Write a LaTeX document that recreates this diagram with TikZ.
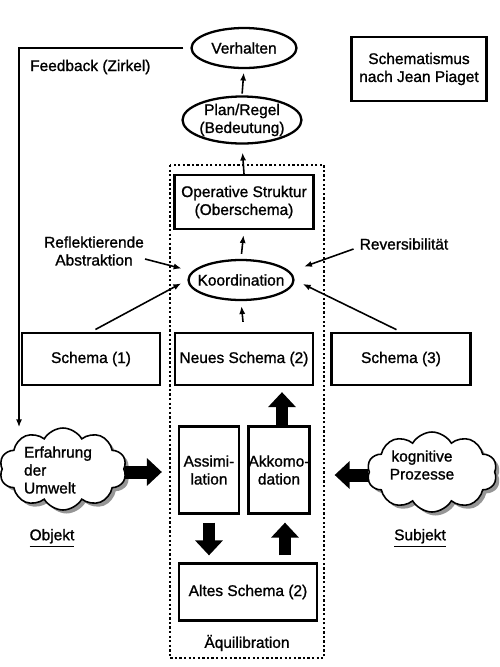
\documentclass[tikz,border=0pt]{standalone}
\usepackage{fontspec}
\setmainfont[FakeBold=1.2]{Liberation Sans}
\usepackage{tikz}
\usepackage{xcolor}
\usetikzlibrary{shapes.geometric, shapes.symbols, arrows.meta, shadows, calc}
\definecolor{schattengrau}{RGB}{150, 150, 150}
\tikzstyle{kasten} = [draw, line width=1.3pt, inner sep=2pt, align=center]
\tikzstyle{oval} = [draw, ellipse, line width=1.3pt, inner xsep=-4pt, inner ysep=-3pt, align=center]
\tikzstyle{wolke} = [draw, cloud, cloud puffs=10, cloud puff arc=120, cloud ignores aspect, line width=0.9pt, fill=white,
                     drop shadow={fill=schattengrau, opacity=1, shadow xshift=2pt, shadow yshift=-2pt}]
\tikzstyle{pfeil} = [line width=0.9pt, -{Latex[length=4.5pt, width=3.5pt]}]
\tikzstyle{blockpfeil} = [line width=0.26cm, -{Triangle[length=0.3cm, width=0.54cm]}]

\begin{document}
\begin{tikzpicture}[x=0.02cm, y=-0.02cm, font=\fontsize{8.8}{10.2}\selectfont]
            \useasboundingbox (0, 0) rectangle (500, 667);

            % Titel
            \node[kasten, minimum width=2.7cm, minimum height=1.28cm] (titel) at (419, 69) {Schematismus\\nach Jean Piaget};

            % Verhalten und Plan
            \node[oval, minimum width=2.1cm, minimum height=0.8cm] (verhalten) at (244, 48) {Verhalten};
            \node[oval, minimum width=2.38cm, minimum height=0.94cm] (plan) at (242, 120) {Plan/Regel\\(Bedeutung)};
            \node[anchor=west] (feedback) at (24, 67) {Feedback (Zirkel)};

            % Aequilibration
            \draw[line width=1.4pt, dash pattern=on 1.3pt off 1.3pt] (170, 165) rectangle (324, 658);
            \node (aequi) at (247, 643) {Äquilibration};

            \node[kasten, minimum width=2.78cm, minimum height=1.08cm] (oper) at (244, 202) {Operative Struktur\\(Oberschema)};
            \node[oval, minimum width=2.1cm, minimum height=0.8cm] (koord) at (241, 280) {Koordination};
            \node[align=center] (reflex) at (94, 251) {Reflektierende\\Abstraktion};
            \node (rev) at (404, 244) {Reversibilität};

            % Schemata
            \node[kasten, minimum width=2.76cm, minimum height=1.04cm] (schema1) at (91, 359) {Schema (1)};
            \node[kasten, minimum width=2.76cm, minimum height=1.04cm] (neu) at (244, 359) {Neues Schema (2)};
            \node[kasten, minimum width=2.78cm, minimum height=1.04cm] (schema3) at (401, 359) {Schema (3)};
            \node[kasten, minimum width=1.2cm, minimum height=1.74cm, inner xsep=0pt] (assim) at (209, 470) {Assimi-\\lation};
            \node[kasten, minimum width=1.2cm, minimum height=1.74cm, inner xsep=0pt] (akko) at (279, 470) {Akkomo-\\dation};
            \node[kasten, minimum width=2.76cm, minimum height=1.14cm] (altes) at (248, 592) {Altes Schema (2)};

            % Wolken
            \node[wolke, minimum width=2.54cm, minimum height=1.64cm] (erfahrung) at (63, 469) {};
            \node[align=left] (erfahrungtext) at (58, 470) {Erfahrung\\der\\Umwelt};
            \node[wolke, minimum width=2.6cm, minimum height=1.6cm] (kognitiv) at (432, 472) {};
            \node[align=center] (kognitivtext) at (422, 465) {kognitive\\Prozesse};
            \node (objekt) at (52, 538) {\underline{Objekt}};
            \node (subjekt) at (420, 538) {\underline{Subjekt}};

            % Pfeile
            \draw[pfeil, shorten <=1pt, shorten >=2pt] (plan.north) -- (verhalten.south);
            \draw[pfeil, shorten >=1.6mm] (oper.north) -- (plan.south);
            \draw[pfeil, shorten <=1mm, shorten >=1mm] (koord.north) -- (oper.south);
            \draw[pfeil, shorten <=2mm, shorten >=1mm] (neu.north) -- (koord.south);
            \draw[pfeil, shorten <=1mm, shorten >=1.4mm] (schema1.north) -- (koord.west);
            \draw[pfeil, shorten <=1mm, shorten >=1.8mm] (schema3.north) -- (koord.east);
            \draw[pfeil, shorten >=1.2mm] ([xshift=-1mm, yshift=-1.6mm]reflex.east) -- ([yshift=2mm]koord.west);
            \draw[pfeil, shorten >=2mm] ([yshift=-1mm]rev.west) -- ([yshift=2mm]koord.east);
            \draw[pfeil, shorten <=1.4mm] (verhalten.west) -| ([xshift=-0.88cm]erfahrung.north);

            % Blockpfeile
            \draw[blockpfeil, shorten >=3.2mm] ([yshift=-0.6mm]erfahrung.east) -- ([yshift=-0.6mm]erfahrung.east -| assim.west);
            \draw[blockpfeil, shorten >=4.8mm] ([yshift=-0.6mm]kognitiv.west) -- ([yshift=-0.6mm]kognitiv.west -| akko.east);
            \draw[blockpfeil, shorten >=1.2mm] ([xshift=0.6mm]akko.north) -- ([xshift=0.6mm]akko.north |- neu.south);
            \draw[blockpfeil, shorten <=1.6mm, shorten >=1.4mm] (assim.south) -- (assim.south |- altes.north);
            \draw[blockpfeil, shorten <=1.4mm, shorten >=1.6mm] ([xshift=1.2mm]altes.north -| akko.south) -- ([xshift=1.2mm]akko.south);
        \end{tikzpicture}
\end{document}
